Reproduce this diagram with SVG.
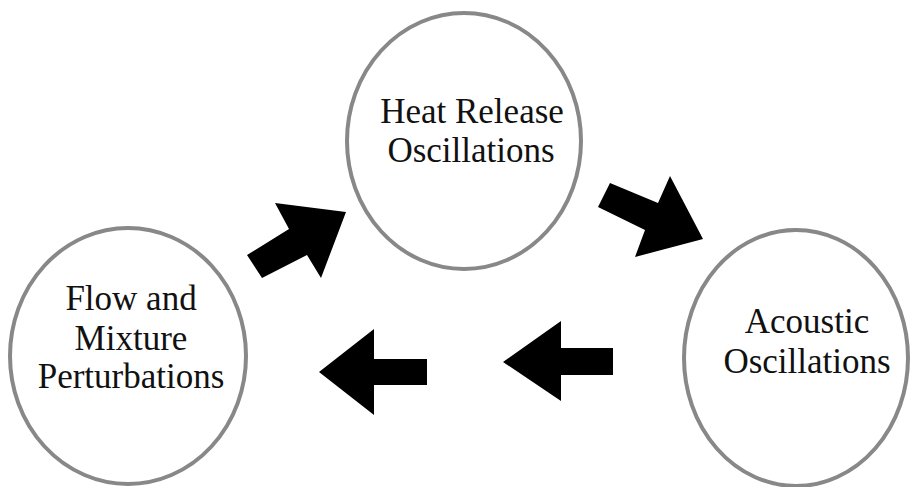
<svg xmlns="http://www.w3.org/2000/svg" width="910" height="487" viewBox="0 0 910 487">
<style>
.node ellipse{fill:#fff;stroke:#888;stroke-width:4}
.node text{font-family:"Liberation Serif","Times New Roman",serif;font-size:35px;fill:#111;text-anchor:middle}
.arrow{fill:#000}
</style>
<rect width="910" height="487" fill="#fff"/>
<g id="heat">
<g class="node">
<ellipse cx="464" cy="141" rx="117" ry="128"/>
<text x="472" y="123">Heat Release</text>
<text x="471" y="162">Oscillations</text>
</g>
</g>
<g id="acoustic">
<g class="node">
<ellipse cx="796" cy="358" rx="112" ry="128"/>
<text x="807" y="333">Acoustic</text>
<text x="807" y="373">Oscillations</text>
</g>
</g>
<g id="flow">
<g class="node">
<ellipse cx="128" cy="356" rx="118" ry="128"/>
<text x="131" y="310">Flow and</text>
<text x="131" y="350">Mixture</text>
<text x="131" y="388">Perturbations</text>
</g>
</g>
<g id="connectors">
<polygon class="arrow" points="247,255 289,229 275,203 346,212 321,278 307,255 262,278"/>
<polygon class="arrow" points="610,183 658,203 670,176 703,239 635,257 645,230 598,207"/>
<polygon class="arrow" points="503,362 561,321 561,348 613,348 613,375 561,375 561,401"/>
<polygon class="arrow" points="319,372 374,329 374,359 427,359 427,385 374,385 374,415"/>
</g>
</svg>
